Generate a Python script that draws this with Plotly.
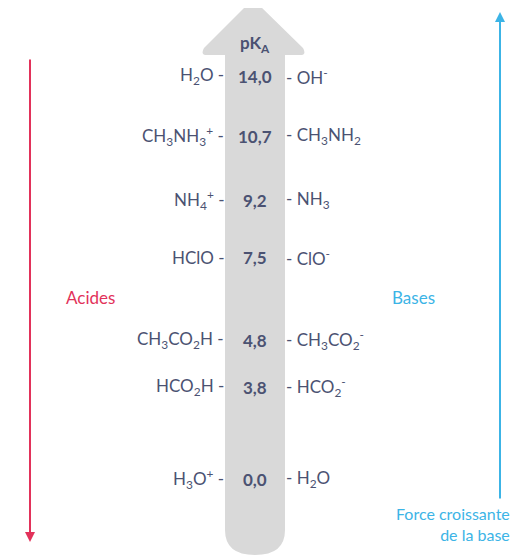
import plotly.graph_objects as go

# pKa scale (schematic, top to bottom)
pka = ["14,0", "10,7", "9,2", "7,5", "4,8", "3,8", "0,0"]
acides = ["H<sub>2</sub>O", "CH<sub>3</sub>NH<sub>3</sub><sup>+</sup>", "NH<sub>4</sub><sup>+</sup>", "HClO",
          "CH<sub>3</sub>CO<sub>2</sub>H", "HCO<sub>2</sub>H", "H<sub>3</sub>O<sup>+</sup>"]
bases = ["OH<sup>-</sup>", "CH<sub>3</sub>NH<sub>2</sub>", "NH<sub>3</sub>", "ClO<sup>-</sup>",
         "CH<sub>3</sub>CO<sub>2</sub><sup>-</sup>", "HCO<sub>2</sub><sup>-</sup>", "H<sub>2</sub>O"]
row_y = [76, 136, 200, 257, 340, 387, 479]

TXT = "#4b5272"
RED = "#e2325a"
BLUE = "#3cb4e6"
F = "Lato"

fig = go.Figure()
fig.add_trace(go.Scatter(x=[0, 530], y=[0, 555], mode="markers", marker=dict(opacity=0), hoverinfo="skip"))

# big grey arrow
fig.add_shape(type="path", line=dict(width=0), fillcolor="#d9d9d9", layer="below",
              path="M 225 55 L 207 55 Q 200 55 204 48 L 248 4 Q 253 0 258 4 L 303 48 Q 307 55 300 55 "
                   "L 285 55 L 285 530 Q 285 555 255 555 Q 225 555 225 530 Z")

ann = []
ann.append(dict(x=255, y=44, text="pK<sub>A</sub>", font=dict(size=17, color=TXT, family=F, weight="bold")))
for p, a, b, y in zip(pka, acides, bases, row_y):
    ann.append(dict(x=255, y=y, text=p, font=dict(size=17, color=TXT, family=F, weight="bold")))
    ann.append(dict(x=226, y=y, text=a + " -", xanchor="right", font=dict(size=17, color=TXT, family=F)))
    ann.append(dict(x=284, y=y, text="- " + b, xanchor="left", font=dict(size=17, color=TXT, family=F)))

ann.append(dict(x=0, y=31, text="Force croissante<br>de l'acide", xanchor="left", align="left",
                font=dict(size=16, color=RED, family=F)))
ann.append(dict(x=90, y=297, text="Acides", font=dict(size=17, color=RED, family=F)))
ann.append(dict(x=413, y=297, text="Bases", font=dict(size=17, color=BLUE, family=F)))
ann.append(dict(x=512, y=524, text="Force croissante<br>de la base", xanchor="right", align="right",
                font=dict(size=16, color=BLUE, family=F)))
# side arrows
ann.append(dict(x=30, y=542, ax=30, ay=58, axref="x", ayref="y", text="", showarrow=True,
                arrowhead=2, arrowsize=1, arrowwidth=2, arrowcolor=RED))
ann.append(dict(x=500, y=12, ax=500, ay=500, axref="x", ayref="y", text="", showarrow=True,
                arrowhead=2, arrowsize=1, arrowwidth=2, arrowcolor=BLUE))
for a in ann:
    a.setdefault("showarrow", False)
    a.setdefault("xref", "x")
    a.setdefault("yref", "y")

# page body margin offsets the figure by ~8px, so shift the ranges to compensate
fig.update_layout(width=530, height=555, margin=dict(l=0, r=0, t=0, b=0),
                  plot_bgcolor="white", paper_bgcolor="white", showlegend=False, annotations=ann,
                  xaxis=dict(range=[8, 538], visible=False, fixedrange=True),
                  yaxis=dict(range=[563, 8], visible=False, fixedrange=True))
fig.write_html("out.html")
